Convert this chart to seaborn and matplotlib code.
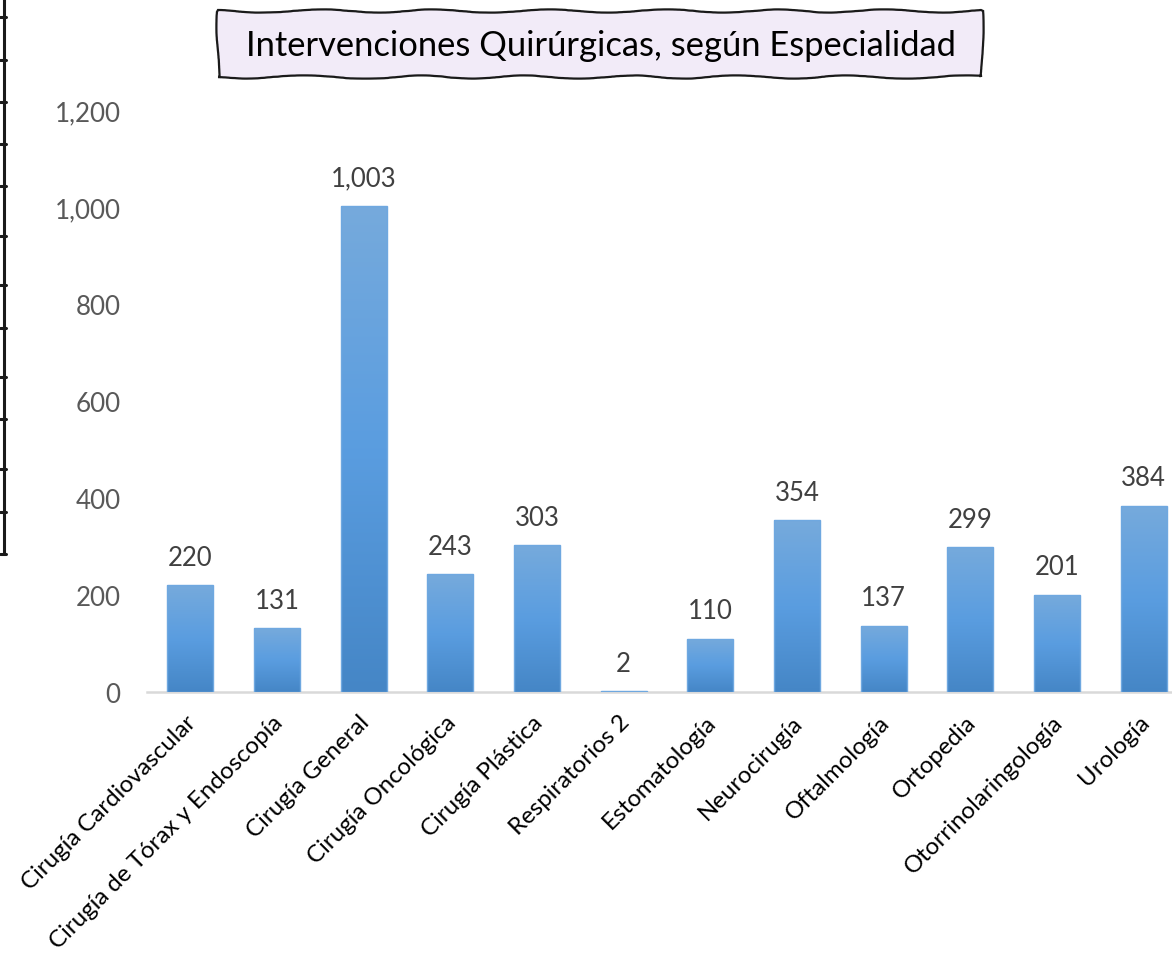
import numpy as np
import pandas as pd
import matplotlib
matplotlib.use("Agg")
import matplotlib.pyplot as plt
import seaborn as sns
from matplotlib.colors import LinearSegmentedColormap
from matplotlib.patches import FancyBboxPatch
from matplotlib.lines import Line2D
from matplotlib.ticker import FuncFormatter, MultipleLocator
from matplotlib.transforms import ScaledTranslation

# ---- data ----
categories = [
    "Cirugía Cardiovascular", "Cirugía de Tórax y Endoscopía", "Cirugía General",
    "Cirugía Oncológica", "Cirugía Plástica", "Respiratorios 2", "Estomatología",
    "Neurocirugía", "Oftalmología", "Ortopedia", "Otorrinolaringología", "Urología",
]
values = [220, 131, 1003, 243, 303, 2, 110, 354, 137, 299, 201, 384]
title = "Intervenciones Quirúrgicas, según Especialidad"

sns.set_theme(style="white")
plt.rcParams["font.family"] = ["Lato", "DejaVu Sans"]

W, H, DPI = 1172, 954, 100
fig = plt.figure(figsize=(W / DPI, H / DPI), dpi=DPI)
fig.patch.set_facecolor("white")

# axes placed in pixel terms (plot area extends past right edge, like the reference)
left_px, right_px, bottom_px, top_px = 147, 1187, 693, 111
ax = fig.add_axes([left_px / W, (H - bottom_px) / H,
                   (right_px - left_px) / W, (bottom_px - top_px) / H])
ax.set_facecolor("none")

df = pd.DataFrame({"cat": categories, "val": values})
sns.barplot(data=df, x="cat", y="val", ax=ax, width=0.527, color="#5b9bd5",
            edgecolor="#6fa8e0", linewidth=1.0, saturation=1)

ax.set_ylim(0, 1200)
ax.set_xlim(-0.5, len(categories) - 0.5)

# gradient fill clipped to each bar
cmap = LinearSegmentedColormap.from_list("g", ["#4586c6", "#5a9de0", "#76aadc"])
grad = np.linspace(0, 1, 256).reshape(-1, 1)
for p in list(ax.patches):
    x0, y0 = p.get_x(), p.get_y()
    w, h = p.get_width(), p.get_height()
    if h <= 0:
        continue
    im = ax.imshow(grad, extent=[x0, x0 + w, y0, y0 + h], origin="lower",
                   aspect="auto", cmap=cmap, zorder=2, interpolation="bilinear")
    im.set_clip_path(p)
    p.set_facecolor("none")
    p.set_zorder(3)
ax.set_ylim(0, 1200)
ax.set_xlim(-0.5, len(categories) - 0.5)

# spines / axis
for s in ["left", "right", "top"]:
    ax.spines[s].set_visible(False)
ax.spines["bottom"].set_color("#d9d9d9")
ax.spines["bottom"].set_linewidth(1.8)
ax.spines["bottom"].set_zorder(1)
ax.yaxis.set_major_locator(MultipleLocator(200))
ax.yaxis.set_major_formatter(FuncFormatter(lambda v, _: f"{v:,.0f}"))
ax.tick_params(axis="y", length=0, pad=19, labelsize=18.7, labelcolor="#595959")
ax.tick_params(axis="x", length=0, pad=0, labelsize=17.3, labelcolor="#000000")
ax.set_xlabel("")
ax.set_ylabel("")
ax.grid(False)

ax.set_xticks(range(len(categories)))
ax.set_xticklabels(categories, rotation=45, ha="right", va="top",
                   rotation_mode="anchor")
off = ScaledTranslation(-5 / DPI, -19 / DPI, fig.dpi_scale_trans)
for lab in ax.get_xticklabels():
    lab.set_transform(lab.get_transform() + off)

# data labels
for i, v in enumerate(values):
    ax.annotate(f"{v:,}", (i, v), xytext=(0, 20), textcoords="offset points",
                ha="center", va="center", fontsize=18.5, color="#404040")

# title box with hand-drawn look
box = FancyBboxPatch((218 / W, 1 - 78 / H), (982 - 218) / W, (78 - 12) / H,
                     boxstyle="square,pad=0", transform=fig.transFigure,
                     facecolor="#f2ebf8", edgecolor="#1a1a1a", linewidth=1.6)
box.set_sketch_params(scale=1.6, length=140, randomness=3)
fig.add_artist(box)
fig.text(601 / W, 1 - 46 / H, title, ha="center", va="center",
         fontsize=24.8, color="#000000")

# left decorative border fragment
fig.add_artist(Line2D([4 / W, 4 / W], [1, 1 - 555 / H], transform=fig.transFigure,
                      color="#1a1a1a", linewidth=2.2))
for yy in [18, 61, 103, 145, 187, 237, 286, 329, 378, 420, 470, 513, 555]:
    fig.add_artist(Line2D([0, 5.5 / W], [1 - yy / H, 1 - yy / H],
                          transform=fig.transFigure, color="#1a1a1a", linewidth=2.2))

fig.savefig("out.png", dpi=DPI)
